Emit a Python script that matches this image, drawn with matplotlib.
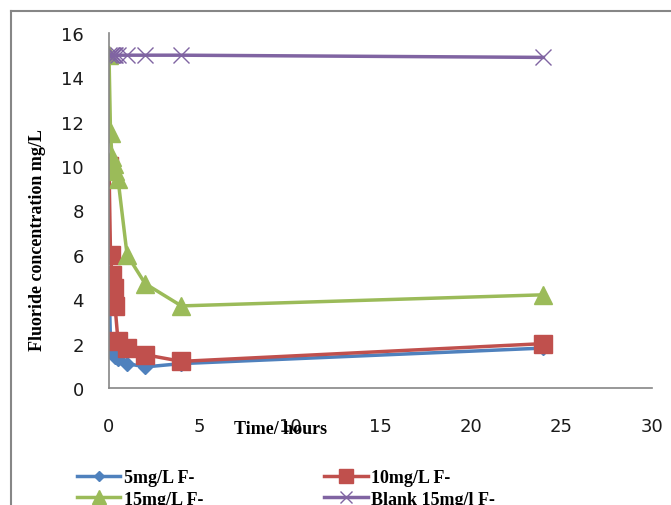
import numpy as np
import matplotlib
matplotlib.use('Agg')
import matplotlib.pyplot as plt
from matplotlib.lines import Line2D

# time points in hours
hours = [0, 0.083, 0.167, 0.25, 0.333, 0.5, 1, 2, 4, 24]

conc_5 = [5.0, 2.0, 1.6, 1.5, 1.4, 1.3, 1.1, 0.95, 1.1, 1.8]
conc_10 = [10.0, 6.0, 5.1, 4.5, 3.7, 2.1, 1.8, 1.5, 1.2, 2.0]
conc_15 = [15.0, 11.5, 10.4, 10.1, 9.8, 9.4, 6.0, 4.7, 3.7, 4.2]
blank_15 = [15.0, 15.0, 15.0, 15.0, 15.0, 15.0, 15.0, 15.0, 15.0, 14.9]

labels = ['5mg/L F-', '10mg/L F-', '15mg/L F-', 'Blank 15mg/l F-']

x_ticks = [0, 5, 10, 15, 20, 25, 30]
y_ticks = [0, 2, 4, 6, 8, 10, 12, 14, 16]

serif = {'family': 'Liberation Serif', 'weight': 'bold', 'size': 13}
grey = '#868686'

fig = plt.figure(figsize=(6.71, 5.06), dpi=100)
ax = fig.add_axes([109/671, 1-389/506, (652-109)/671, (389-34)/506])

h1, = ax.plot(hours, conc_5, color='#4F81BD', lw=2.5, marker='D', ms=7,
              mec='#4F81BD', label=labels[0])
h2, = ax.plot(hours, conc_10, color='#C0504D', lw=2.5, marker='s', ms=13,
              mec='#C0504D', label=labels[1])
h3, = ax.plot(hours, conc_15, color='#9BBB59', lw=2.5, marker='^', ms=13,
              mec='#9BBB59', label=labels[2])
h4, = ax.plot(hours, blank_15, color='#8064A2', lw=2.5, marker='x', ms=11,
              mew=1.0, mec='#8064A2', label=labels[3])

ax.set_xlim(0, 30)
ax.set_ylim(0, 16)
ax.set_xticks(x_ticks)
ax.set_yticks(y_ticks)
ax.tick_params(length=0, labelsize=13, labelcolor='#1a1a1a')
ax.tick_params(axis='x', pad=21)
ax.tick_params(axis='y', pad=18)
for s in ['top', 'right']:
    ax.spines[s].set_visible(False)
for s in ['left', 'bottom']:
    ax.spines[s].set_color(grey)
    ax.spines[s].set_linewidth(1.2)

# axis titles
fig.text(281/671, 1-430/506, 'Time/ hours', ha='center', va='center', fontdict=serif)
fig.text(38/671, 1-240/506, 'Fluoride concentration mg/L', ha='center', va='center',
         rotation=90, fontdict=serif)

# legend below the chart (row-wise order like excel)
fig.legend([h1, h3, h2, h4], [labels[0], labels[2], labels[1], labels[3]],
           loc='upper left', bbox_to_anchor=(77/671, 1-470/506), ncol=2,
           frameon=False, borderpad=0, borderaxespad=0, handlelength=2.4,
           handletextpad=0.2, columnspacing=6.7, labelspacing=0.25,
           markerscale=0.8, prop=serif)

# chart area border
fig.add_artist(Line2D([11/671, 11/671], [0, 1-12/506], color=grey, lw=1.5))
fig.add_artist(Line2D([11/671, 1], [1-12/506, 1-12/506], color=grey, lw=1.5))

fig.savefig('out.png', dpi=100)
